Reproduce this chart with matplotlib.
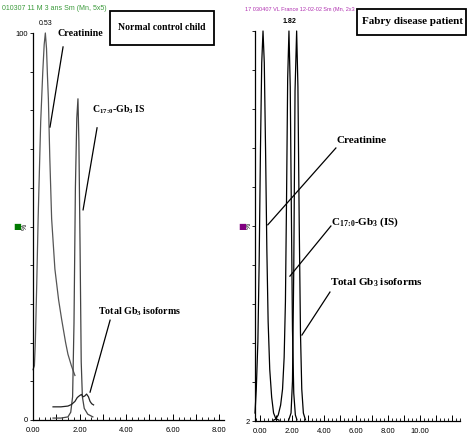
import numpy as np
import matplotlib.pyplot as plt
from matplotlib.ticker import MultipleLocator, FuncFormatter, FixedLocator
from matplotlib.patches import Rectangle

plt.rcParams['mathtext.default'] = 'regular'

# left chromatogram: normal control child (retention time in min, relative intensity %)
ctrl_crea_t = [0.0, 0.06, 0.1, 0.16, 0.22, 0.33, 0.42, 0.48, 0.53, 0.58, 0.62, 0.66, 0.72, 0.8, 0.94, 1.1, 1.23, 1.4, 1.5, 1.65, 1.8]
ctrl_crea_y = [13, 14, 20, 35, 52, 77, 90, 97, 100, 96, 89, 83, 68, 52, 39, 31, 26, 20, 17, 14, 11.5]
ctrl_is_t = [0.86, 1.2, 1.5, 1.62, 1.7, 1.76, 1.82, 1.88, 1.93, 1.97, 2.02, 2.07, 2.12, 2.2, 2.35, 2.57]
ctrl_is_y = [0.5, 0.5, 0.8, 2, 6, 25, 60, 78, 83, 72, 45, 15, 6, 3, 1.5, 0.8]
ctrl_gb3_t = [0.86, 1.2, 1.5, 1.65, 1.8, 1.9, 2.0, 2.08, 2.15, 2.22, 2.3, 2.38, 2.45, 2.52, 2.6]
ctrl_gb3_y = [3.4, 3.4, 3.6, 4.0, 4.8, 5.8, 6.3, 6.6, 6.0, 6.2, 6.7, 6.0, 4.8, 4.2, 3.9]

# right chromatogram: Fabry disease patient
fab_crea_t = [-0.3, -0.22, -0.12, -0.04, 0.04, 0.12, 0.2, 0.28, 0.36, 0.44, 0.52, 0.62, 0.74, 0.86, 1.0, 1.2]
fab_crea_y = [4, 10, 22, 42, 70, 92, 100, 92, 70, 45, 27, 15, 8, 4, 2.6, 2.2]
fab_is_t = [0.85, 1.0, 1.15, 1.3, 1.42, 1.52, 1.6, 1.67, 1.74, 1.82, 1.9, 1.97, 2.04, 2.12, 2.22, 2.32]
fab_is_y = [2.2, 2.5, 3.5, 6, 10, 18, 32, 58, 88, 100, 86, 55, 25, 9, 3.5, 2.3]
fab_gb3_t = [1.8, 1.95, 2.04, 2.12, 2.2, 2.3, 2.38, 2.46, 2.54, 2.62, 2.72, 2.85]
fab_gb3_y = [2.2, 4, 12, 40, 85, 100, 86, 52, 24, 10, 4, 2.3]

sans = 'Liberation Sans'
serif = 'Liberation Serif'
is_label = 'C$_{17\\!:\\!0}$-Gb$_3$'

fig = plt.figure(figsize=(4.71, 4.42), dpi=100)
ax1 = fig.add_axes([33/471, 22/442, 191/471, 387/442])
ax2 = fig.add_axes([255/471, 21/442, 205/471, 390/442])


def style(ax, xmax_label):
    for s in ['top', 'right']:
        ax.spines[s].set_visible(False)
    ax.xaxis.set_major_locator(MultipleLocator(1))
    ax.xaxis.set_minor_locator(MultipleLocator(0.25))
    ax.xaxis.set_major_formatter(FuncFormatter(
        lambda v, p: '%.2f' % v if round(v) % 2 == 0 and -0.1 < v < xmax_label + 0.1 else ''))
    ax.tick_params(axis='x', which='major', direction='in', length=4, width=0.7, labelsize=5.5,
                   labelfontfamily=sans, pad=5)
    ax.tick_params(axis='x', which='minor', direction='in', length=2.5, width=0.6)
    ax.tick_params(axis='y', which='both', direction='out', length=2.5, width=0.6, labelsize=5.5,
                   labelfontfamily=sans, pad=1)
    ax.spines['left'].set_linewidth(0.9)
    ax.spines['bottom'].set_linewidth(0.9)


# left panel
ax1.plot(ctrl_crea_t, ctrl_crea_y, color='#555555', lw=0.9, clip_on=False)
ax1.plot(ctrl_is_t, ctrl_is_y, color='#444444', lw=0.9, clip_on=False)
ax1.plot(ctrl_gb3_t, ctrl_gb3_y, color='#222222', lw=0.9, clip_on=False)
ax1.set_xlim(0, 8.2)
ax1.set_ylim(0, 100)
style(ax1, 8)
ax1.set_yticks([0, 100])
ax1.set_yticklabels(['0', '100'])
ax1.yaxis.set_minor_locator(MultipleLocator(10))
ax1.text(0.53, 101.5, '0.53', ha='center', va='bottom', fontsize=5, family=sans)
ax1.text(-0.04, 0.5, '%', transform=ax1.transAxes, rotation=90, ha='center', va='center',
         fontsize=5, family=sans)
ax1.text(-0.082, 0.5, '\u25A0', transform=ax1.transAxes, ha='center', va='center',
         fontsize=6, color='#007a00')

ann = dict(fontfamily=serif, fontweight='bold', color='black')
ax1.text(2.04, 100, 'Creatinine', ha='center', va='center', fontsize=7.2, **ann)
ax1.plot([1.29, 0.73], [96.4, 75.7], color='black', lw=0.9, clip_on=False)
ax1.text(2.54, 80.1, is_label + ' IS', ha='left', va='center', fontsize=7, **ann)
ax1.plot([2.75, 2.15], [75.5, 54.3], color='black', lw=0.9, clip_on=False)
ax1.text(2.8, 27.9, 'Total Gb$_3$ isoforms', ha='left', va='center', fontsize=7.2, **ann)
ax1.plot([3.31, 2.45], [25.8, 7.2], color='black', lw=0.9, clip_on=False)

# right panel
ax2.plot(fab_crea_t, fab_crea_y, color='black', lw=0.9, clip_on=False)
ax2.plot(fab_is_t, fab_is_y, color='black', lw=0.9, clip_on=False)
ax2.plot(fab_gb3_t, fab_gb3_y, color='black', lw=0.9, clip_on=False)
ax2.set_xlim(-0.3, 12.5)
ax2.set_ylim(2, 100)
style(ax2, 10)
ax2.set_yticks([2])
ax2.set_yticklabels(['2'])
ax2.yaxis.set_minor_locator(FixedLocator(np.linspace(2, 100, 11)))
ax2.text(1.84, 101.5, '1.82', ha='center', va='bottom', fontsize=5, family=sans, fontweight='bold')
ax2.text(-0.028, 0.5, '%', transform=ax2.transAxes, rotation=90, ha='center', va='center',
         fontsize=5, family=sans)
ax2.text(-0.062, 0.5, '\u25A0', transform=ax2.transAxes, ha='center', va='center',
         fontsize=6, color='#800080')

ax2.text(4.81, 72.6, 'Creatinine', ha='left', va='center', fontsize=8, **ann)
ax2.plot([4.75, 0.5], [70.6, 51.3], color='black', lw=0.9, clip_on=False)
ax2.text(4.44, 52.0, is_label + ' (IS)', ha='left', va='center', fontsize=8, **ann)
ax2.plot([4.44, 1.88], [51.0, 38.4], color='black', lw=0.9, clip_on=False)
ax2.text(4.38, 36.7, 'Total Gb$_3$ isoforms', ha='left', va='center', fontsize=8, **ann)
ax2.plot([4.38, 2.63], [34.4, 23.6], color='black', lw=0.9, clip_on=False)

# headers and boxed titles
fig.text(2/471, 1 - 9/442, '010307 11 M 3 ans Sm (Mn, 5x5)', fontsize=5, family=sans,
         color='#3a9a3a', va='center', ha='left')
fig.text(245/471, 1 - 9/442, '17 030407 VL France 12-02-02 Sm (Mn, 2x3', fontsize=4, family=sans,
         color='#b030b0', va='center', ha='left')

fig.patches.append(Rectangle((110/471, 1 - 45/442), 104/471, 34/442, transform=fig.transFigure,
                             fill=False, edgecolor='black', lw=1.3))
fig.text(162/471, 1 - 28/442, 'Normal control child', ha='center', va='center', fontsize=7,
         fontfamily=serif, fontweight='bold')
fig.patches.append(Rectangle((357/471, 1 - 35/442), 109/471, 26/442, transform=fig.transFigure,
                             fill=False, edgecolor='black', lw=1.3))
fig.text(412/471, 1 - 22/442, 'Fabry disease patient', ha='center', va='center', fontsize=8,
         fontfamily=serif, fontweight='bold')

fig.savefig('out.png', dpi=100)
